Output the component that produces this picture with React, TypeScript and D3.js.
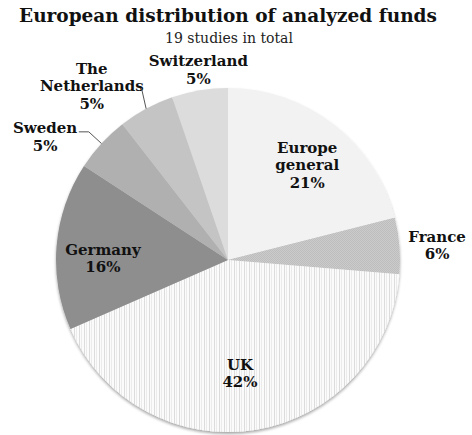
import React, { useEffect, useRef } from 'react';
import * as d3 from 'd3';

// Counts per region (19 studies); labels show the rounded percentages from the chart
const regions = ['Europe general', 'France', 'UK', 'Germany', 'Sweden', 'The Netherlands', 'Switzerland'];
const studies = [4, 1, 8, 3, 1, 1, 1];
const shares = ['21%', '6%', '42%', '16%', '5%', '5%', '5%'];
const labelLines = [['Europe', 'general'], ['France'], ['UK'], ['Germany'], ['Sweden'], ['The', 'Netherlands'], ['Switzerland']];
const fills = ['#f2f2f2', 'url(#dots)', 'url(#stripes)', '#8e8e8e', '#b0b0b0', '#c4c4c4', '#dcdcdc'];

export default function App() {
  const svgRef = useRef<SVGSVGElement>(null);

  useEffect(() => {
    if (!svgRef.current) return;
    const svg = d3.select(svgRef.current);
    svg.selectAll('*').remove();

    const W = 472;
    const cx = 228;
    const cy = 260;
    const r = 172;
    const font = '"DejaVu Serif", Georgia, serif';

    const defs = svg.append('defs');
    const stripes = defs.append('pattern')
      .attr('id', 'stripes')
      .attr('patternUnits', 'userSpaceOnUse')
      .attr('width', 5)
      .attr('height', 10);
    stripes.append('rect').attr('width', 5).attr('height', 10).style('fill', '#fbfbfb');
    stripes.append('rect').attr('x', 1).attr('width', 1).attr('height', 10).style('fill', '#dcdcdc');
    stripes.append('rect').attr('x', 3).attr('width', 1).attr('height', 10).style('fill', '#ebebeb');

    const dots = defs.append('pattern')
      .attr('id', 'dots')
      .attr('patternUnits', 'userSpaceOnUse')
      .attr('width', 2)
      .attr('height', 2);
    dots.append('rect').attr('width', 2).attr('height', 2).style('fill', '#cbcbcb');
    dots.append('rect').attr('width', 1).attr('height', 1).style('fill', '#bdbdbd');
    dots.append('rect').attr('x', 1).attr('y', 1).attr('width', 1).attr('height', 1).style('fill', '#bdbdbd');

    const shadow = defs.append('filter')
      .attr('id', 'shadow')
      .attr('x', '-10%').attr('y', '-10%')
      .attr('width', '120%').attr('height', '120%');
    shadow.append('feDropShadow')
      .attr('dx', 0).attr('dy', 2)
      .attr('stdDeviation', 1.5)
      .attr('flood-color', '#000')
      .attr('flood-opacity', 0.35);

    // Title
    svg.append('text')
      .attr('x', W / 2 - 8)
      .attr('y', 22)
      .attr('text-anchor', 'middle')
      .style('font-family', font)
      .style('font-size', '18.5px')
      .style('font-weight', '700')
      .style('fill', '#111')
      .text('European distribution of analyzed funds');

    svg.append('text')
      .attr('x', cx + 1)
      .attr('y', 43)
      .attr('text-anchor', 'middle')
      .style('font-family', font)
      .style('font-size', '14px')
      .style('fill', '#222')
      .text('19 studies in total');

    const pie = d3.pie<number>().sort(null).value(d => d);
    const arcs = pie(studies);
    const arc = d3.arc<d3.PieArcDatum<number>>().innerRadius(0).outerRadius(r);

    const g = svg.append('g').attr('transform', `translate(${cx},${cy})`);

    g.append('g')
      .style('filter', 'url(#shadow)')
      .selectAll('path')
      .data(arcs)
      .enter()
      .append('path')
      .attr('d', arc)
      .style('fill', (d, i) => fills[i]);

    // label placement: radius factor and nudges (layout, not data)
    const labelLayout = [
      { k: 0.75, dx: 0, dy: 7 },
      { k: 1.22, dx: 0, dy: 3 },
      { k: 0.67, dx: -7, dy: 0 },
      { k: 0.73, dx: 0, dy: 9 },
      { k: 1.2, dx: -31, dy: 17 },
      { k: 1.2, dx: -38, dy: 8 },
      { k: 1.12, dx: 2, dy: 0 },
    ];
    const lineH = 17.5;

    const polar = (a: number, rad: number): [number, number] => [Math.sin(a) * rad, -Math.cos(a) * rad];

    arcs.forEach((d, i) => {
      const mid = (d.startAngle + d.endAngle) / 2;
      const lay = labelLayout[i];
      const [px, py] = polar(mid, r * lay.k);
      const x = px + lay.dx;
      const y = py + lay.dy;
      const lines = [...labelLines[i], shares[i]];
      const n = lines.length;
      const t = g.append('text')
        .attr('text-anchor', 'middle')
        .style('font-family', font)
        .style('font-size', '15px')
        .style('font-weight', '700')
        .style('fill', '#111');
      lines.forEach((ln, j) => {
        t.append('tspan')
          .attr('x', x)
          .attr('y', y + (j - (n - 1) / 2) * lineH + 5)
          .text(ln);
      });
    });

    // leader lines for Sweden and The Netherlands
    const sw = arcs[4];
    const swMid = (sw.startAngle + sw.endAngle) / 2;
    const [sx0, sy0] = polar(swMid, r);
    const [sx1, sy1] = polar(swMid, r * 1.1);
    g.append('path')
      .attr('d', `M${sx0},${sy0}L${sx1},${sy1}L${sx1 - 10},${sy1}`)
      .style('fill', 'none')
      .style('stroke', '#555')
      .style('stroke-width', 1);

    const nl = arcs[5];
    const nlMid = (nl.startAngle + nl.endAngle) / 2;
    const [nx0, ny0] = polar(nlMid, r);
    const [nx1, ny1] = polar(nlMid + 0.03, r * 1.12);
    g.append('path')
      .attr('d', `M${nx0},${ny0}L${nx1},${ny1}`)
      .style('fill', 'none')
      .style('stroke', '#555')
      .style('stroke-width', 1);
  }, []);

  return (
    <svg
      ref={svgRef}
      width={472}
      height={435}
      style={{ position: 'absolute', left: 0, top: 0, background: '#fff' }}
    />
  );
}
